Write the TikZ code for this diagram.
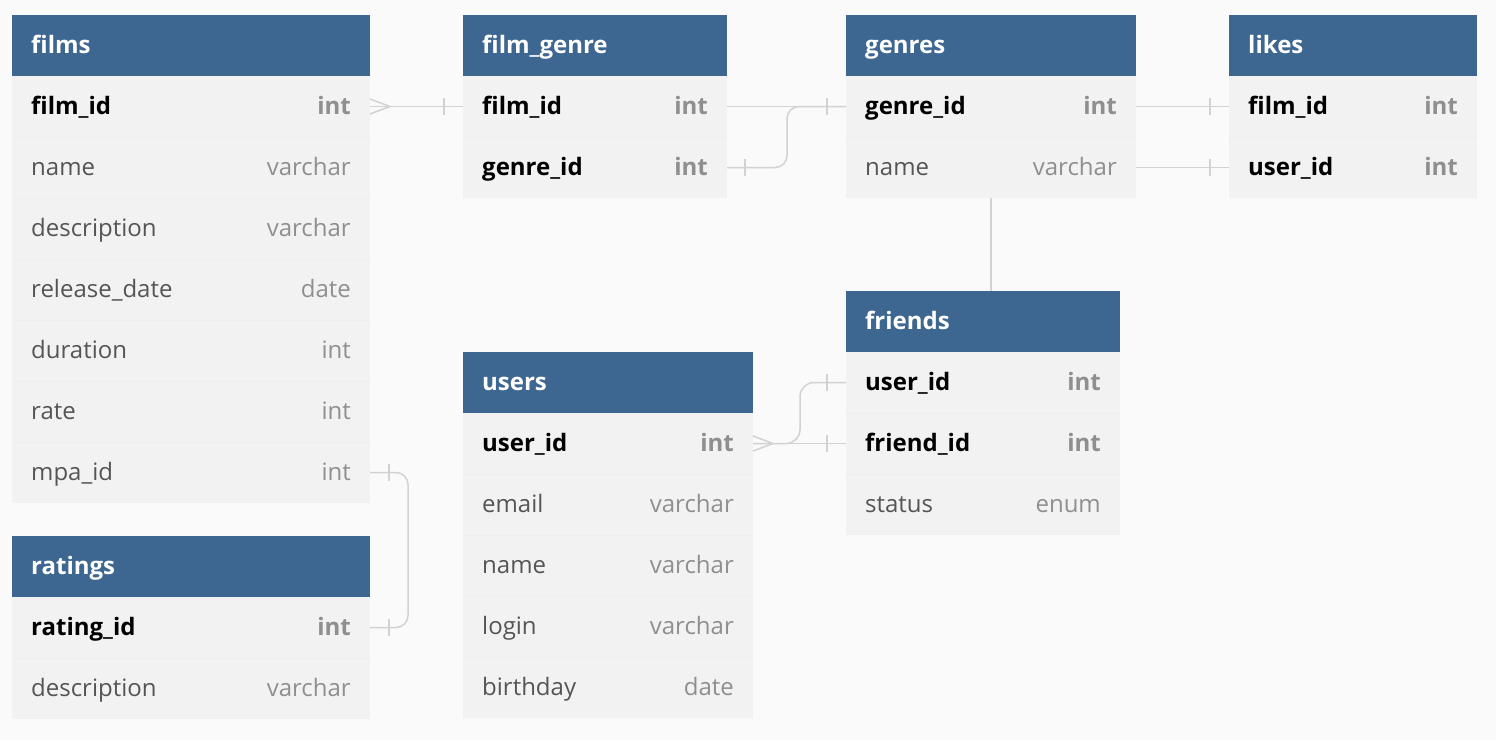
\documentclass[tikz,border=0pt]{standalone}
\usepackage{fontspec}
\setmainfont{Open Sans}
\usetikzlibrary{calc}
\definecolor{hdrblue}{RGB}{61,102,145}
\definecolor{rowbg}{RGB}{242,242,242}
\definecolor{pagebg}{RGB}{250,250,250}
\definecolor{namegray}{RGB}{85,85,85}
\definecolor{typegray}{RGB}{143,143,143}
\definecolor{linegray}{RGB}{210,210,210}
\definecolor{sepgray}{RGB}{238,238,238}
\tikzset{
 hdr/.style={fill=hdrblue, draw=none, anchor=north west, minimum height=61pt, inner sep=0pt, outer sep=0pt},
 rowbox/.style={fill=rowbg, draw=none, anchor=north west, minimum height=61pt, inner sep=0pt, outer sep=0pt},
 lbl/.style={anchor=base west, inner sep=0pt},
 typ/.style={anchor=base east, inner sep=0pt},
 conn/.style={draw=linegray, line width=1.5pt},
 sepline/.style={draw=sepgray, line width=0.6pt},
}
\newcommand\ertable[6]{%
  \node[hdr, minimum width=#4pt] (#1) at (#2,#3) {};
  \node[lbl, text=white, font=\fontsize{24}{28}\selectfont\bfseries] (#1-title) at (#2+19,#3+38) {#5};
  \foreach \kk/\nm/\ty [count=\i] in {#6} {
    \pgfmathsetmacro\ry{#3+61*\i}
    \ifnum\kk=1 \def\nf{\bfseries}\def\nc{black}\else\def\nf{}\def\nc{namegray}\fi
    \node[rowbox, minimum width=#4pt] (#1-\i) at (#2,\ry) {};
    \ifnum\i>1 \draw[sepline] (#1-\i.north west) -- (#1-\i.north east);\fi
    \node[lbl, text=\nc, font=\fontsize{24}{28}\selectfont\nf] (#1-\i-n) at (#2+19,\ry+38) {\nm};
    \node[typ, text=typegray, font=\fontsize{24}{28}\selectfont\nf] (#1-\i-t) at (#2+#4-19,\ry+38) {\ty};
  }
}
\newcommand\erbar[2]{\draw[conn] ([xshift=#2pt,yshift=8.5pt]#1) -- ([xshift=#2pt,yshift=-8.5pt]#1);}
\newcommand\ercrow[1]{\draw[conn] ([yshift=7.5pt]#1) -- ([xshift=20pt]#1) -- ([yshift=-7.5pt]#1);}
\begin{document}
\begin{tikzpicture}[x=1pt,y=-1pt]
\path[use as bounding box, fill=pagebg] (0,0) rectangle (1496,740);
\ertable{films}{12}{15}{358}{films}{1/film\_id/int, 0/name/varchar, 0/description/varchar, 0/release\_date/date, 0/duration/int, 0/rate/int, 0/mpa\_id/int}
\ertable{ratings}{12}{536}{358}{ratings}{1/rating\_id/int, 0/description/varchar}
\ertable{filmgenre}{463}{15}{264}{film\_genre}{1/film\_id/int, 1/genre\_id/int}
\ertable{genres}{846}{15}{290}{genres}{1/genre\_id/int, 0/name/varchar}
\ertable{likes}{1229}{15}{248}{likes}{1/film\_id/int, 1/user\_id/int}
\ertable{friends}{846}{291}{274}{friends}{1/user\_id/int, 1/friend\_id/int, 0/status/enum}
\ertable{users}{463}{352}{290}{users}{1/user\_id/int, 0/email/varchar, 0/name/varchar, 0/login/varchar, 0/birthday/date}
% connectors
\draw[conn] (films-1.east) -- (filmgenre-1.west);
\ercrow{films-1.east}
\erbar{filmgenre-1.west}{-19}
\draw[conn] (filmgenre-1.east) -- (genres-1.west);
\draw[conn, rounded corners=12pt] (filmgenre-2.east) -- ++(60,0) |- (genres-1.west);
\erbar{filmgenre-2.east}{18}
\erbar{genres-1.west}{-19}
\draw[conn] (genres-1.east) -- (likes-1.west);
\erbar{likes-1.west}{-19}
\draw[conn] (genres-2.east) -- (likes-2.west);
\erbar{likes-2.west}{-19}
\draw[conn] (genres-2.south) -- (genres-2.south |- friends.north);
\draw[conn] (users-1.east) -- (friends-2.west);
\draw[conn, rounded corners=14pt] (users-1.east) -- ++(47,0) |- (friends-1.west);
\ercrow{users-1.east}
\erbar{friends-1.west}{-19}
\erbar{friends-2.west}{-19}
\draw[conn, rounded corners=12pt] (films-7.east) -- ++(38,0) |- (ratings-1.east);
\erbar{films-7.east}{19}
\erbar{ratings-1.east}{19}
\end{tikzpicture}
\end{document}
